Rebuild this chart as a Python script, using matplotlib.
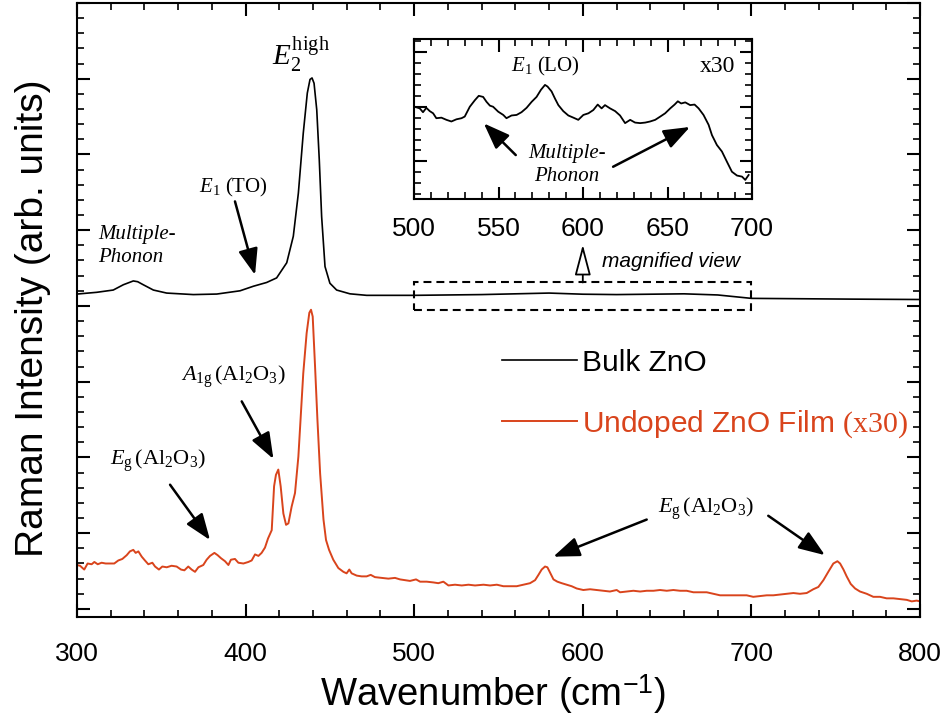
import matplotlib
matplotlib.use("Agg")
from matplotlib import pyplot as plt
from matplotlib.patches import Rectangle
from matplotlib.ticker import MultipleLocator

# bulk ZnO spectrum (arb. units, offset upward)
bulk_wn = [300, 311.7, 321.5, 327.5, 333.4, 336, 339.3, 345.3, 353.2, 369, 382.9, 396.7,
           404.6, 412.5, 418.4, 424.4, 428.3, 431.3, 434.2, 436.6, 438.2, 439.4, 440.6,
           442.2, 443.7, 445.1, 447.1, 450, 454, 461.9, 471.8, 491.6, 500, 520, 540, 560,
           580, 600, 620, 640, 660, 680, 700, 730, 760, 800]
bulk_int = [4.157, 4.18, 4.21, 4.28, 4.33, 4.32, 4.28, 4.21, 4.17, 4.15, 4.157, 4.2,
            4.26, 4.31, 4.37, 4.57, 4.92, 5.49, 6.28, 6.81, 6.99, 7.01, 6.94,
            6.59, 5.93, 5.18, 4.52, 4.30, 4.21, 4.16, 4.14, 4.14, 4.14, 4.145, 4.15, 4.16,
            4.17, 4.155, 4.15, 4.155, 4.16, 4.145, 4.10, 4.095, 4.09, 4.085]

# undoped film on sapphire, x30
film_wn = [300, 301.8, 304.3, 306.3, 308.7, 310.3, 312.3, 314.6, 317, 319.6, 322.1, 324.5,
           326.9, 329.5, 331.4, 333.4, 334.8, 336.4, 338.4, 340.3, 342.3, 344.7, 346.3,
           348.6, 350.6, 353.2, 356.1, 359.1, 361.7, 363.7, 366, 368, 370, 372, 374.9,
           376.9, 378.9, 381.5, 383.4, 385.4, 387.8, 389.8, 391.3, 393.7, 395.7, 398.7,
           401.6, 403.6, 405.6, 407.6, 409.5, 411.5, 413.3, 415.5, 416.9, 418.0, 419.4,
           420.8, 422.4, 424.0, 425.4, 427.3, 429.3, 431.3, 432.7, 434.2, 436.2, 437.8,
           438.8, 439.8, 441.2, 442.6, 444.2, 446.2, 447.7, 449.5, 452.0, 455.0, 458.0,
           459.9, 461.5, 462.9, 465.9, 468.8, 471.8, 474.2, 476.7, 480.7, 484.7, 488.6,
           491.6, 494.6, 497.5, 501.1, 503.5, 507.4, 511.4, 514.3, 517.3, 520.3, 524.2,
           528.2, 532.2, 536.1, 541.1, 545.0, 549.0, 552.9, 556.9, 560.8, 564.8, 568.7,
           571.7, 573.7, 575.6, 577.6, 579.0, 580.6, 582.6, 584.9, 587.5, 590.4, 593.4,
           596.4, 600.3, 604.3, 608.2, 612.2, 616.1, 620.1, 622.1, 626.0, 630, 634,
           637.9, 641.9, 645.8, 649.8, 653.7, 657.7, 661.6, 665.6, 669.5, 673.5, 677.4,
           681.4, 685.3, 689.3, 693.2, 697.2, 701.1, 705.1, 709.1, 713.0, 717.0, 720.9,
           724.9, 728.8, 732.8, 736.7, 739.7, 742.7, 745.6, 748.6, 751.0, 752.6, 754.6,
           756.5, 758.9, 761.5, 764.4, 768.4, 772.3, 776.3, 780.2, 784.2, 788.1, 792.1,
           795.1, 798.0, 800]
film_int = [0.58, 0.57, 0.52, 0.60, 0.59, 0.62, 0.59, 0.61, 0.60, 0.60, 0.60, 0.64,
            0.66, 0.71, 0.76, 0.78, 0.74, 0.76, 0.69, 0.64, 0.59, 0.61, 0.56,
            0.52, 0.56, 0.55, 0.57, 0.56, 0.52, 0.51, 0.56, 0.52, 0.49, 0.55, 0.58,
            0.65, 0.70, 0.74, 0.71, 0.67, 0.63, 0.58, 0.65, 0.66, 0.61, 0.60,
            0.62, 0.64, 0.72, 0.70, 0.74, 0.81, 0.93, 1.04, 1.62, 1.77, 1.84,
            1.62, 1.26, 1.11, 1.13, 1.35, 1.53, 2.01, 2.54, 3.11, 3.64, 3.91,
            3.95, 3.86, 3.20, 2.50, 1.79, 1.18, 0.91, 0.78, 0.65, 0.54, 0.49,
            0.47, 0.52, 0.47, 0.44, 0.43, 0.43, 0.45, 0.42, 0.41, 0.40, 0.41,
            0.39, 0.38, 0.37, 0.39, 0.36, 0.36, 0.35, 0.34, 0.36, 0.31, 0.32,
            0.31, 0.32, 0.31, 0.32, 0.31, 0.32, 0.30, 0.30, 0.30, 0.32, 0.34,
            0.38, 0.45, 0.52, 0.56, 0.55, 0.48, 0.39, 0.36, 0.34, 0.32, 0.30,
            0.27, 0.25, 0.26, 0.25, 0.24, 0.23, 0.25, 0.22, 0.23, 0.24, 0.23,
            0.24, 0.24, 0.25, 0.24, 0.25, 0.24, 0.24, 0.22, 0.22, 0.22, 0.20,
            0.18, 0.18, 0.18, 0.18, 0.18, 0.16, 0.17, 0.18, 0.18, 0.19, 0.20,
            0.21, 0.20, 0.21, 0.26, 0.29, 0.38, 0.49, 0.60, 0.63, 0.60, 0.52,
            0.43, 0.33, 0.27, 0.23, 0.20, 0.16, 0.16, 0.14, 0.14, 0.13, 0.12,
            0.10, 0.11, 0.10]

# bulk ZnO 500-700 cm-1, magnified x30
zoom_wn = [500.4, 503.4, 505.3, 507.3, 509.3, 511.3, 513.2, 516.2, 519.2, 522.1, 525.1,
           528.1, 530, 533, 536, 538.3, 540.9, 542.9, 544.9, 546.8, 549.8, 552.8, 554.7,
           557.7, 560.7, 563.6, 566.6, 569.6, 572.5, 575.1, 577.5, 579, 581.4, 583.4,
           585.4, 588.3, 591.3, 594.3, 597.2, 600.2, 603.2, 606.1, 608.7, 611, 613, 616,
           619, 621.9, 624.9, 627.9, 630.8, 633.8, 636.8, 639.7, 642.7, 645.7, 648.6,
           651.6, 654.2, 656.1, 658.1, 660.5, 663.4, 666, 668.4, 671.3, 674.3, 676.3,
           679.2, 682.2, 685.2, 688.1, 691.1, 694.1, 696, 698]
zoom_int = [1.0, 0.97, 0.90, 0.98, 0.92, 0.88, 0.79, 0.80, 0.76, 0.73, 0.77,
            0.79, 0.82, 1.0, 1.12, 1.20, 1.18, 1.09, 1.02, 1.0, 0.91, 0.85, 0.79,
            0.84, 0.85, 0.90, 0.98, 1.09, 1.18, 1.31, 1.40, 1.37, 1.28, 1.15,
            1.03, 0.92, 0.84, 0.80, 0.76, 0.85, 0.88, 0.94, 1.04, 0.97, 1.03, 0.97,
            0.92, 0.84, 0.70, 0.76, 0.71, 0.70, 0.71, 0.73, 0.76, 0.82, 0.88,
            0.97, 1.04, 1.10, 1.06, 1.08, 1.03, 1.04, 0.97, 0.85, 0.67, 0.48,
            0.30, 0.18, -0.01, -0.19, -0.26, -0.28, -0.34, -0.25]

red = "#d9441c"

plt.rcParams["font.family"] = ["Liberation Sans", "DejaVu Sans"]
plt.rcParams["mathtext.fontset"] = "custom"
plt.rcParams["mathtext.rm"] = "Liberation Serif"
plt.rcParams["mathtext.it"] = "Liberation Serif:italic"
plt.rcParams["mathtext.bf"] = "Liberation Serif:bold"
plt.rcParams["mathtext.sf"] = "Liberation Sans"

fig = plt.figure(figsize=(9.47, 7.19), dpi=100)
ax = fig.add_axes([0.0813, 0.1419, 0.8902, 0.854])

ax.plot(bulk_wn, bulk_int, color="black", lw=1.2, label="Bulk ZnO")
ax.plot(film_wn, film_int, color=red, lw=1.4,
        label=r"Undoped ZnO Film $\mathrm{(x30)}$")

ax.set_xlim(300, 800)
ax.set_ylim(-0.106, 8.0)
ax.xaxis.set_major_locator(MultipleLocator(100))
ax.xaxis.set_minor_locator(MultipleLocator(20))
ax.yaxis.set_major_locator(MultipleLocator(1))
ax.yaxis.set_minor_locator(MultipleLocator(0.2))
ax.tick_params(which="both", direction="in", top=True, right=True, labelleft=False)
ax.tick_params(which="major", length=9.5, width=1.5, labelsize=19, pad=18)
ax.tick_params(which="minor", length=5, width=1.2)
for s in ax.spines.values():
    s.set_linewidth(1.5)

ax.set_xlabel(r"Wavenumber (cm$^{\mathsf{-1}}$)", fontsize=27.5)
ax.xaxis.set_label_coords(0.4935, -0.09)
ax.set_ylabel("Raman Intensity (arb. units)", fontsize=28)
ax.yaxis.set_label_coords(-0.031, 0.487)

leg = ax.legend(loc="center left", bbox_to_anchor=(0.504, 0.363), frameon=False,
                fontsize=21.5, handlelength=2.5, handletextpad=0.2, labelspacing=1.05,
                borderpad=0, borderaxespad=0, labelcolor="linecolor")

arrow = dict(arrowstyle="-|>,head_length=0.8,head_width=0.3", color="black", lw=1.8,
             mutation_scale=20, shrinkA=0, shrinkB=0)
serif = "Liberation Serif"

# peak labels, bulk
ax.text(432.9, 7.32, r"$E_2^{\mathrm{high}}$", fontsize=21, ha="center", va="center",
        family=serif)
ax.text(392.8, 5.56, r"$E_1$ (TO)", fontsize=15, ha="center", va="center", family=serif)
ax.annotate("", xy=(405.6, 4.41), xytext=(393.7, 5.38), arrowprops=arrow)
ax.text(312.5, 4.79, "Multiple-\nPhonon", fontsize=15, style="italic", ha="left",
        va="center", family=serif, linespacing=1.3)

# sapphire substrate peaks
ax.text(392.8, 3.06, r"$A_{\mathrm{1g}}\,(\mathrm{Al}_2\mathrm{O}_3)$", fontsize=16,
        ha="center", va="center", family=serif)
ax.annotate("", xy=(416.5, 1.98), xytext=(397.7, 2.74), arrowprops=arrow)
ax.text(348.3, 1.955, r"$E_{\mathrm{g}}\,(\mathrm{Al}_2\mathrm{O}_3)$", fontsize=16,
        ha="center", va="center", family=serif)
ax.annotate("", xy=(378.9, 0.91), xytext=(355.2, 1.64), arrowprops=arrow)
ax.text(673.3, 1.32, r"$E_{\mathrm{g}}\,(\mathrm{Al}_2\mathrm{O}_3)$", fontsize=16,
        ha="center", va="center", family=serif)
ax.annotate("", xy=(582.5, 0.69), xytext=(637.9, 1.18), arrowprops=arrow)
ax.annotate("", xy=(743.6, 0.71), xytext=(710.0, 1.23), arrowprops=arrow)

# region shown in the inset
ax.add_patch(Rectangle((500, 3.95), 200, 0.36, fill=False, ec="black", lw=1.5,
                       ls=(0, (3.8, 2.4))))
ax.annotate("", xy=(600, 4.81), xytext=(600, 4.31),
            arrowprops=dict(arrowstyle="-|>,head_length=0.95,head_width=0.25",
                            fc="white", ec="black", lw=1.3, mutation_scale=20,
                            shrinkA=0, shrinkB=0))
ax.text(611.1, 4.59, "magnified view", fontsize=15, style="italic", ha="left",
        va="center")

# inset: magnified bulk spectrum
ins = fig.add_axes([0.4372, 0.7232, 0.3569, 0.2225])
ins.plot(zoom_wn, zoom_int, color="black", lw=1.3)
ins.set_xlim(500, 700)
ins.set_ylim(-0.69, 2.24)
ins.xaxis.set_major_locator(MultipleLocator(50))
ins.xaxis.set_minor_locator(MultipleLocator(10))
ins.yaxis.set_major_locator(MultipleLocator(1))
ins.yaxis.set_minor_locator(MultipleLocator(0.2))
ins.tick_params(which="both", direction="in", top=True, right=True, labelleft=False)
ins.tick_params(which="major", length=9, width=1.5, labelsize=19, pad=13)
ins.tick_params(which="minor", length=5, width=1.2)
for s in ins.spines.values():
    s.set_linewidth(1.5)

ins.text(578, 1.73, r"$E_1$ (LO)", fontsize=15, ha="center", va="center", family=serif)
ins.text(679.4, 1.73, "x30", fontsize=17, ha="center", va="center", family=serif)
ins.text(590.5, -0.06, "Multiple-\nPhonon", fontsize=15, style="italic", ha="center",
         va="center", family=serif, linespacing=1.3)
ins.annotate("", xy=(541.3, 0.695), xytext=(560.2, 0.115), arrowprops=arrow)
ins.annotate("", xy=(663.3, 0.63), xytext=(617.8, -0.099), arrowprops=arrow)

fig.savefig("out.png", dpi=100)
